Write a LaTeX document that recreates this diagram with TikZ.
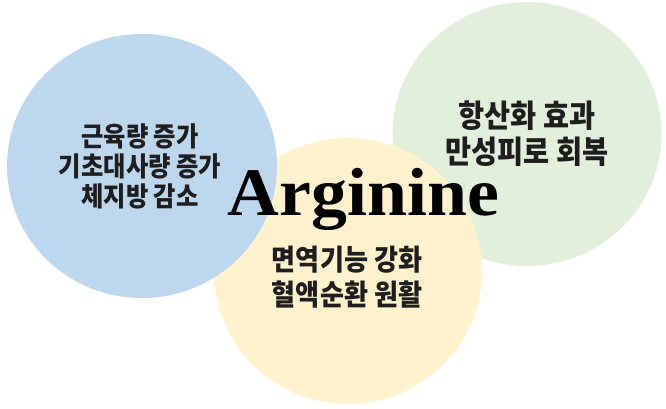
\documentclass[tikz,border=0pt]{standalone}
\usepackage{fontspec}
\usetikzlibrary{shapes.geometric}
\newfontfamily\krfont{Noto Sans CJK KR}[FakeStretch=0.9]
\newfontfamily\argfont{Liberation Serif}
\definecolor{cblue}{RGB}{189,215,238}
\definecolor{cgreen}{RGB}{226,239,218}
\definecolor{cyellow}{RGB}{255,242,204}
\definecolor{ctext}{RGB}{30,30,30}
\tikzset{
  blob/.style={ellipse, draw=none, inner sep=0pt},
  krlabel/.style={align=center, inner sep=0pt, text=ctext, font=\krfont\bfseries},
}
\begin{document}
\begin{tikzpicture}[x=1pt, y=-1pt]
\useasboundingbox (0,0) rectangle (666,408);
\fill[white] (0,0) rectangle (666,408);
\node[blob, fill=cgreen, minimum width=269pt, minimum height=264pt] (green) at (527,134) {};
\node[blob, fill=cyellow, minimum width=268pt, minimum height=266pt] (yellow) at (348,271) {};
\node[blob, fill=cblue, minimum width=270pt, minimum height=264pt] (blue) at (142,166) {};
\node[krlabel, font=\krfont\bfseries\fontsize{27}{30}\selectfont] (bluetext) at (140,166.5)
  {근육량 증가\\기초대사량 증가\\체지방 감소};
\node[krlabel, font=\krfont\bfseries\fontsize{31.5}{36}\selectfont] (greentext) at (527,134)
  {항산화 효과\\만성피로 회복};
\node[krlabel, font=\krfont\bfseries\fontsize{29}{35}\selectfont] (yellowtext) at (347,277)
  {면역기능 강화\\혈액순환 원활};
\node[anchor=base, inner sep=0pt, text=black, font=\argfont\bfseries\fontsize{68}{80}\selectfont] (arg) at (363.5,215)
  {\scalebox{1.055}[1]{Arginine}};
\end{tikzpicture}
\end{document}
